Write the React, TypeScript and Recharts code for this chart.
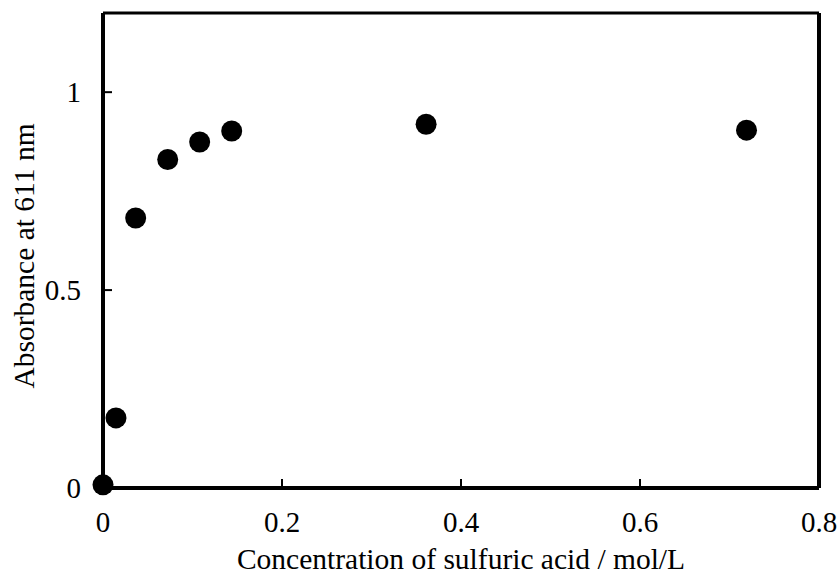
import React from 'react'
import {
  ScatterChart,
  Scatter,
  XAxis,
  YAxis,
  ReferenceLine,
  Label,
} from 'recharts'

const concentration = [0, 0.0145, 0.0365, 0.0723, 0.108, 0.1438, 0.361, 0.719]
const absorbance = [0.008, 0.177, 0.682, 0.83, 0.874, 0.902, 0.919, 0.904]
const xTicks = [0, 0.2, 0.4, 0.6, 0.8]
const yTicks = [0, 0.5, 1]

const points = concentration.map((c, i) => ({ x: c, y: absorbance[i] }))

const FONT = 'Liberation Serif'
const tickStyle = { fill: '#000', fontSize: 29, fontFamily: FONT }

const Dot = (props: any) => <circle cx={props.cx} cy={props.cy} r={10.5} fill="#000" />

export default function App() {
  return (
    <div style={{ position: 'absolute', left: 0, top: 0, width: 840, height: 574, background: '#fff' }}>
      <ScatterChart width={840} height={574} margin={{ top: 13, right: 21, left: 0, bottom: 0 }}>
        <XAxis
          type="number"
          dataKey="x"
          domain={[0, 0.8]}
          ticks={xTicks}
          tickFormatter={(v: number) => String(v)}
          height={86}
          tickSize={-9}
          tickMargin={32}
          tick={tickStyle}
          axisLine={{ stroke: '#000', strokeWidth: 4 }}
          tickLine={{ stroke: '#000', strokeWidth: 2 }}
        >
          <Label
            value="Concentration of sulfuric acid / mol/L"
            position="insideBottom"
            offset={5}
            fill="#000"
            fontSize={29.5}
            fontFamily={FONT}
          />
        </XAxis>
        <YAxis
          type="number"
          dataKey="y"
          domain={[0, 1.2]}
          ticks={yTicks}
          width={103}
          tickSize={-9}
          tickMargin={31}
          tick={tickStyle}
          axisLine={{ stroke: '#000', strokeWidth: 4 }}
          tickLine={{ stroke: '#000', strokeWidth: 2 }}
        >
          <Label
            value="Absorbance at 611 nm"
            angle={-90}
            position="center"
            dx={-28}
            dy={5.5}
            fill="#000"
            fontSize={29.5}
            fontFamily={FONT}
          />
        </YAxis>
        <ReferenceLine y={1.2} stroke="#000" strokeWidth={3} />
        <ReferenceLine x={0.8} stroke="#000" strokeWidth={4} />
        <Scatter data={points} fill="#000" shape={Dot} isAnimationActive={false} />
      </ScatterChart>
    </div>
  )
}
